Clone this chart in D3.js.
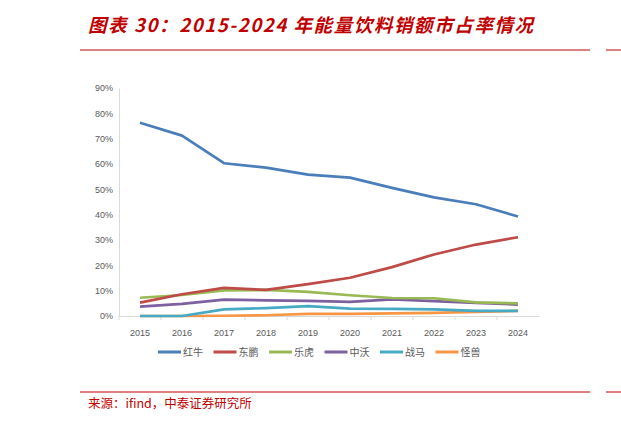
<!DOCTYPE html>
<html><head><meta charset="utf-8">
<script src="https://cdn.jsdelivr.net/npm/d3@7"></script>
<style>body{margin:0;background:#fff}</style></head>
<body><script>
var years = ["2015","2016","2017","2018","2019","2020","2021","2022","2023","2024"];
var names = ["红牛","东鹏","乐虎","中沃","战马","怪兽"];
var colors = ["#4a7ebb","#be4b48","#98b954","#7d60a0","#46aac5","#f79646"];
var hongniu = [76.3,71.2,60.3,58.6,55.8,54.6,50.6,46.8,44.1,39.3];
var dongpeng = [5.3,8.6,11.1,10.3,12.6,15.1,19.3,24.3,28.2,31.1];
var lehu = [7.2,8.3,10.1,10.3,9.5,8.2,7.1,7.0,5.4,5.0];
var zhongwo = [3.7,4.8,6.5,6.2,6.0,5.6,6.6,5.9,5.2,4.5];
var zhanma = [0,0,2.6,3.1,3.9,2.9,2.8,2.6,2.0,2.0];
var guaishou = [0,0,0.1,0.3,0.8,0.8,1.0,1.2,1.6,2.0];
var series = [hongniu,dongpeng,lehu,zhongwo,zhanma,guaishou];
var yTicks = [0,10,20,30,40,50,60,70,80,90];

var svg = d3.select("body").append("svg").attr("width",621).attr("height",423);
var font = "'Noto Sans CJK SC', sans-serif";

// title
svg.append("text").attr("x",88).attr("y",32)
  .attr("fill","#c00000").attr("font-family",font).attr("font-size",18.5)
  .attr("font-weight","bold").attr("font-style","italic")
  .attr("letter-spacing",1.6)
  .text("图表 30：2015-2024 年能量饮料销额市占率情况");
svg.append("line").attr("x1",80).attr("x2",590).attr("y1",50).attr("y2",50).attr("stroke","#c00000").attr("stroke-width",1);
svg.append("line").attr("x1",606).attr("x2",621).attr("y1",50).attr("y2",50).attr("stroke","#c00000").attr("stroke-width",1);
svg.append("line").attr("x1",80).attr("x2",590).attr("y1",392).attr("y2",392).attr("stroke","#c00000").attr("stroke-width",1);
svg.append("line").attr("x1",606).attr("x2",621).attr("y1",392).attr("y2",392).attr("stroke","#c00000").attr("stroke-width",1);
svg.append("text").attr("x",88).attr("y",408).attr("fill","#c00000")
  .attr("font-family",font).attr("font-size",12.5).text("来源：ifind，中泰证券研究所");

var x = d3.scaleBand().domain(years).range([119,539]);
var y = d3.scaleLinear().domain([0,90]).range([316,88]);

var ya = svg.append("g").attr("transform","translate(119,0)")
  .call(d3.axisLeft(y).tickValues(yTicks).tickSize(0).tickFormat(function(d){return d+"%";}));
ya.select(".domain").attr("stroke","#d9d9d9");
ya.selectAll("text").attr("fill","#595959").attr("font-size",9).attr("font-family","'Liberation Sans', sans-serif").attr("dx",-3);

var xa = svg.append("g").attr("transform","translate(0,316)")
  .call(d3.axisBottom(x).tickSize(4).tickSizeOuter(0));
xa.select(".domain").attr("stroke","#d9d9d9");
xa.selectAll("line").attr("stroke","#d9d9d9").attr("transform","translate("+(-x.bandwidth()/2)+",0)");
xa.selectAll("text").attr("fill","#595959").attr("font-size",9).attr("font-family","'Liberation Sans', sans-serif").attr("dy","1.4em");

var line = d3.line().x(function(d,i){return x(years[i])+x.bandwidth()/2;}).y(function(d){return y(d);});
series.slice().reverse().forEach(function(s,j){
  var i = series.length-1-j;
  svg.append("path").attr("d",line(s)).attr("fill","none")
    .attr("stroke",colors[i]).attr("stroke-width",2.7).attr("stroke-linejoin","round");
});

var lg = svg.append("g").attr("transform","translate(158,352)");
names.forEach(function(n,i){
  var g = lg.append("g").attr("transform","translate("+(i*55.5)+",0)");
  g.append("line").attr("x1",0).attr("x2",23).attr("stroke",colors[i]).attr("stroke-width",3);
  g.append("text").attr("x",25).attr("y",4).attr("font-size",10).attr("font-family",font).attr("fill","#595959").text(n);
});
</script></body></html>
